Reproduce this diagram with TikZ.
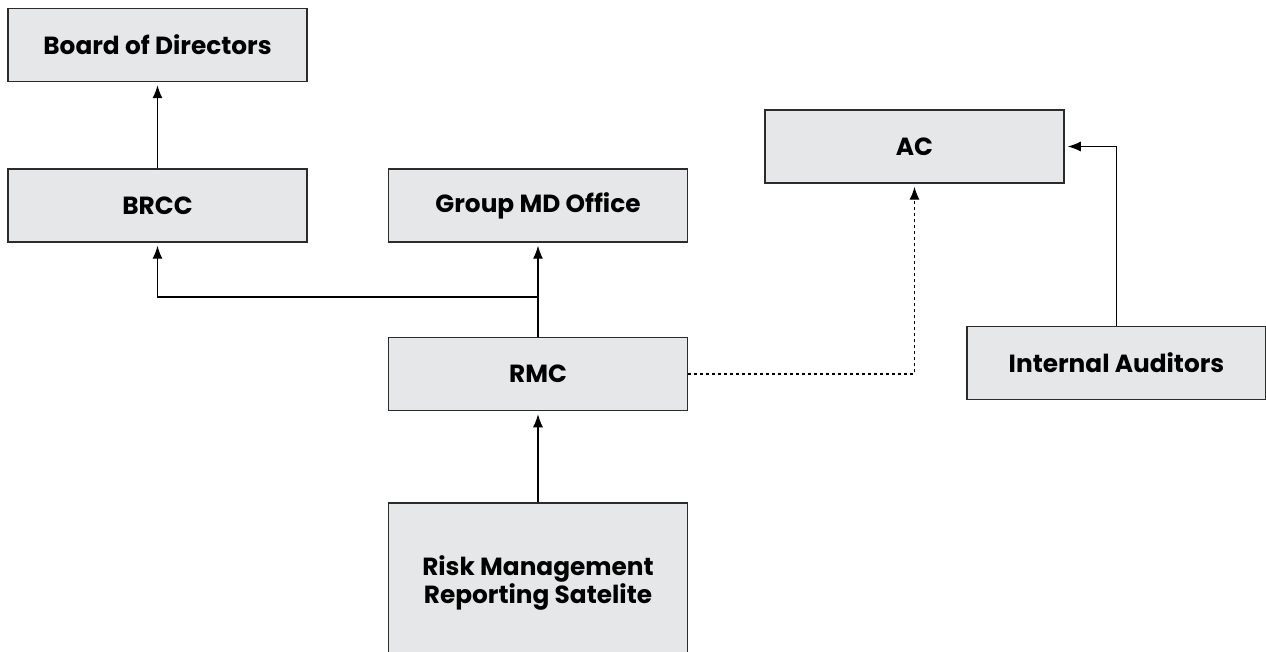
\documentclass[tikz,border=0pt]{standalone}
\usepackage{fontspec}
\setmainfont{Poppins}
\usetikzlibrary{arrows.meta}

\definecolor{boxfill}{HTML}{E6E7E8}
\definecolor{boxline}{HTML}{2B2B2B}

\begin{document}
\begin{tikzpicture}[x = 1pt, y = -1pt, > = {Latex[length = 13pt, width = 10pt]},
	label/.style = {align = center, font = \fontsize{24.8}{28}\selectfont\bfseries},
	box/.style = {label, draw = boxline, line width = 1.5pt, fill = boxfill, minimum width = 299pt,
		minimum height = 73pt},
	link/.style = {->, line width = 1.1pt, shorten > = 3pt}]

	% Page size

	\useasboundingbox (0, 0) rectangle (1266, 652);
	\clip (0, 0) rectangle (1266, 652);

	% Boxes

	\node [box] (board) at (157.5, 45) {Board of Directors};
	\node [box] (brcc) at (157.5, 205.5) {BRCC};
	\node [box] (gmd) at (538, 205.5) {Group MD Office};
	\node [box] (ac) at (914.5, 146.5) {AC};
	\node [box] (rmc) at (538, 374) {RMC};
	\node [box] (ia) at (1116.5, 363) {Internal Auditors};
	\node [box, minimum height = 190pt] (rmrs) at (538, 598) {};
	\node [label] (rmrstext) at (538, 583) {Risk Management\\Reporting Satelite};

	% Reporting lines

	\coordinate (split) at (538, 297);

	\draw [link] (brcc) -- (board);
	\draw [link] (rmc) -- (gmd);
	\draw [link] (split) -| (brcc);
	\draw [link] (rmrs) -- (rmc);
	\draw [link] (ia) |- (ac);
	\draw [link, dashed] (rmc) -| (ac);

\end{tikzpicture}
\end{document}
